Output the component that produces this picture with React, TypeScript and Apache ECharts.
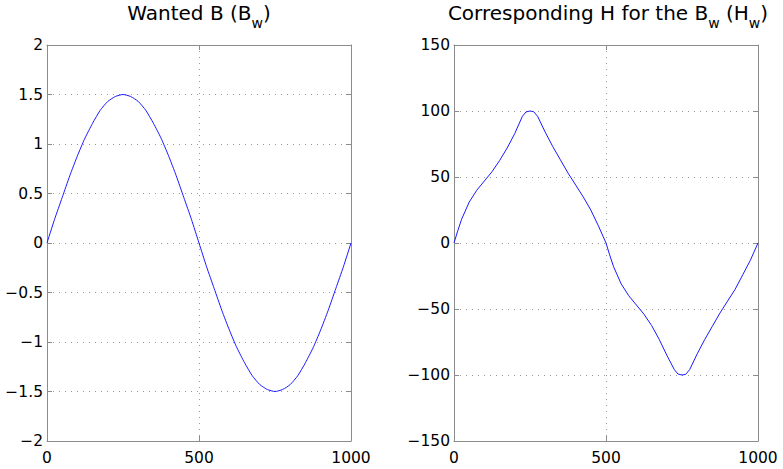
import React, { useEffect, useRef } from "react";
import * as echarts from "echarts";

// ---- data ----
const bX = [0, 25, 50, 75, 100, 125, 150, 175, 200, 225, 250, 275, 300, 325, 350, 375, 400, 425, 450, 475, 500,
  525, 550, 575, 600, 625, 650, 675, 700, 725, 750, 775, 800, 825, 850, 875, 900, 925, 950, 975, 1000];
const bY = [0, 0.24, 0.46, 0.68, 0.88, 1.06, 1.21, 1.34, 1.43, 1.48, 1.5, 1.48, 1.43, 1.34, 1.21, 1.06, 0.88, 0.68, 0.46, 0.24, 0,
  -0.24, -0.46, -0.68, -0.88, -1.06, -1.21, -1.34, -1.43, -1.48, -1.5, -1.48, -1.43, -1.34, -1.21, -1.06, -0.88, -0.68, -0.46, -0.24, 0];

const hX = [0, 12, 25, 50, 75, 100, 125, 150, 175, 200, 225, 237, 250, 262, 275, 300, 325, 350, 375, 400, 425, 450, 475, 500,
  512, 525, 550, 575, 600, 625, 650, 675, 700, 725, 737, 750, 762, 775, 800, 825, 850, 875, 900, 925, 950, 975, 1000];
const hY = [0, 9, 18, 31, 40, 47, 54, 62.5, 72, 83, 96, 99.3, 100, 99.5, 96, 84, 73, 63, 53, 44, 35, 25, 13, 0,
  -9, -18, -31, -40, -47, -54, -62.5, -73, -85, -96, -99.3, -100, -99.5, -96, -84, -73, -63, -53, -44, -35, -24, -13, 0];

const xTicks = [0, 500, 1000];
const bTicks = [-2, -1.5, -1, -0.5, 0, 0.5, 1, 1.5, 2];
const hTicks = [-150, -100, -50, 0, 50, 100, 150];

const titleB = ["Wanted B (B", "w", ")"];
const titleH = ["Corresponding H for the B", "w", " (H", "w", ")"];

// ---- styles ----
const FONT = "DejaVu Sans";
const AXIS_COLOR = "#8c8c8c";
const GRID_COLOR = "#9a9a9a";
const LINE_COLOR = "#1a1aff";
const TICK_FS = 15.5;

const fmt = (v: number) => (v < 0 ? "\u2212" + String(-v) : String(v));

function richTitle(parts: string[]) {
  return parts.map((p, i) => (i % 2 === 1 ? `{s|${p}}` : `{a|${p}}`)).join("");
}

function xAxesFor(gridIndex: number) {
  const common = {
    type: "value" as const,
    gridIndex,
    min: xTicks[0],
    max: xTicks[xTicks.length - 1],
    interval: xTicks[1] - xTicks[0],
    axisLine: { show: true, onZero: false, lineStyle: { color: AXIS_COLOR, width: 1 } },
    axisTick: { show: true, inside: true, length: 5, lineStyle: { color: AXIS_COLOR, width: 1 } },
  };
  return [
    {
      ...common,
      position: "bottom",
      axisLabel: {
        show: true, color: "#000", fontFamily: FONT, fontSize: TICK_FS, margin: 9,
        formatter: fmt, showMinLabel: true, showMaxLabel: true,
      },
      splitLine: { show: true, lineStyle: { color: GRID_COLOR, type: [1, 5], width: 1 } },
    },
    { ...common, position: "top", axisLabel: { show: false }, splitLine: { show: false } },
  ];
}

function yAxesFor(gridIndex: number, ticks: number[]) {
  const common = {
    type: "value" as const,
    gridIndex,
    min: ticks[0],
    max: ticks[ticks.length - 1],
    interval: ticks[1] - ticks[0],
    axisLine: { show: true, onZero: false, lineStyle: { color: AXIS_COLOR, width: 1 } },
    axisTick: { show: true, inside: true, length: 5, lineStyle: { color: AXIS_COLOR, width: 1 } },
  };
  return [
    {
      ...common,
      position: "left",
      axisLabel: {
        show: true, color: "#000", fontFamily: FONT, fontSize: TICK_FS, margin: 4,
        formatter: fmt, showMinLabel: true, showMaxLabel: true,
      },
      splitLine: { show: true, lineStyle: { color: GRID_COLOR, type: [1, 5], width: 1 } },
    },
    { ...common, position: "right", axisLabel: { show: false }, splitLine: { show: false } },
  ];
}

const richStyles = {
  a: { fontFamily: FONT, fontSize: 20, lineHeight: 24, fill: "#000", color: "#000" },
  s: { fontFamily: FONT, fontSize: 14, lineHeight: 14, padding: [20, 0, 0, 0], fill: "#000", color: "#000" },
};

export default function App() {
  const ref = useRef<HTMLDivElement>(null);
  useEffect(() => {
    if (!ref.current) return;
    const chart = echarts.init(ref.current, undefined, { renderer: "svg" });
    const grids = [
      { left: 47, top: 45, width: 304, height: 396 },
      { left: 454, top: 45, width: 304, height: 396 },
    ];
    chart.setOption({
      animation: false,
      backgroundColor: "#fff",
      grid: grids.map((g) => ({ ...g, containLabel: false, show: false })),
      xAxis: [...xAxesFor(0), ...xAxesFor(1)],
      yAxis: [...yAxesFor(0, bTicks), ...yAxesFor(1, hTicks)],
      series: [
        {
          type: "line",
          xAxisIndex: 0,
          yAxisIndex: 0,
          data: bX.map((x, i) => [x, bY[i]]),
          showSymbol: false,
          smooth: 0.2,
          lineStyle: { color: LINE_COLOR, width: 1 },
          silent: true,
        },
        {
          type: "line",
          xAxisIndex: 2,
          yAxisIndex: 2,
          data: hX.map((x, i) => [x, hY[i]]),
          showSymbol: false,
          smooth: false,
          lineStyle: { color: LINE_COLOR, width: 1 },
          silent: true,
        },
      ],
      graphic: [
        {
          type: "text",
          x: 199,
          y: 1,
          silent: true,
          style: { text: richTitle(titleB), rich: richStyles, align: "center", verticalAlign: "top", fill: "#000" },
        },
        {
          type: "text",
          x: 608,
          y: 1,
          silent: true,
          style: { text: richTitle(titleH), rich: richStyles, align: "center", verticalAlign: "top", fill: "#000" },
        },
      ],
    });
    return () => chart.dispose();
  }, []);
  return (
    <div
      ref={ref}
      style={{ position: "fixed", left: 0, top: 0, width: 783, height: 469, background: "#fff" }}
    />
  );
}
